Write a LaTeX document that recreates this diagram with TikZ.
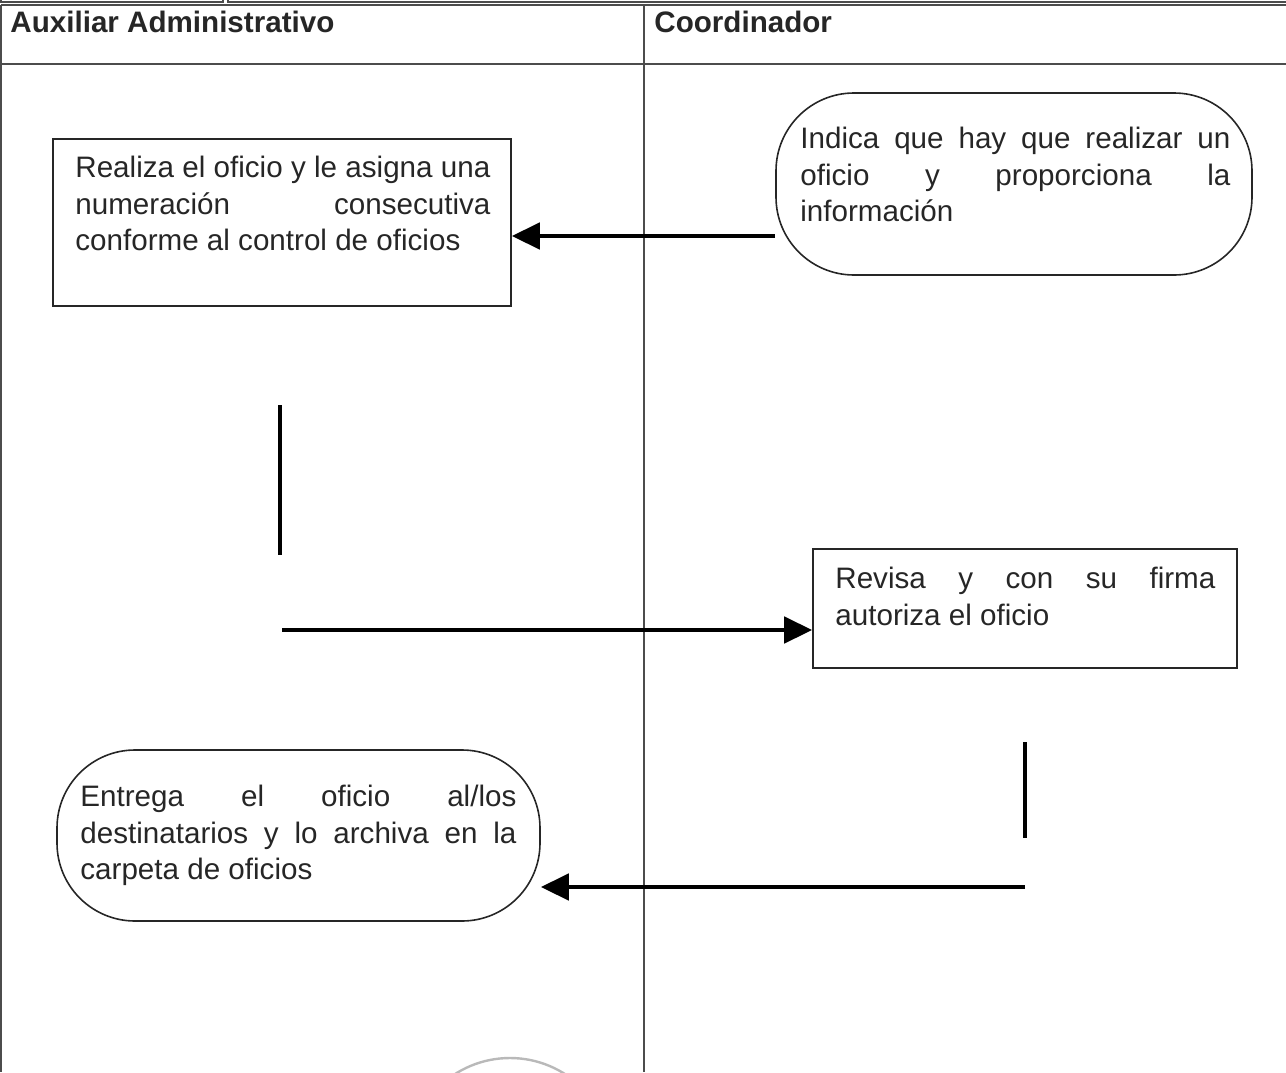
\documentclass[tikz,border=0pt]{standalone}
\usepackage{fontspec}
\setmainfont{Liberation Sans}
\usetikzlibrary{arrows.meta}
\hyphenpenalty=10000
\hbadness=10000
\begin{document}
\begin{tikzpicture}[x=0.5pt, y=-0.5pt,
    every node/.style={font=\fontsize{14.8}{18.25}\selectfont, text=black!85},
    lanehead/.style={anchor=base west, inner sep=0pt, font=\fontsize{14.8}{18.25}\selectfont\bfseries},
    grid/.style={draw=black!70, line width=0.7pt},
    stepbox/.style={draw=black!85, line width=0.8pt, inner sep=0pt},
    roundbox/.style={stepbox, rounded corners=39pt},
    steptext/.style={anchor=north west, inner sep=0pt, align=justify},
    flow/.style={line width=2.4pt, -{Triangle[length=14pt, width=13pt]}},
    flowline/.style={line width=2.2pt}]
  \useasboundingbox (0,0) rectangle (1286,1072);

  % table
  \draw[grid] (1,-4) rectangle (223,2);
  \draw[grid] (228,-4) rectangle (1292,2);
  \draw[grid] (1,5) -- (1286,5);
  \draw[grid] (1,64) -- (1286,64);
  \draw[grid] (1,5) -- (1,1072);
  \draw[grid] (644,5) -- (644,1072);
  \node[lanehead] (aux) at (10,32) {Auxiliar Administrativo};
  \node[lanehead] (coord) at (654,32) {Coordinador};

  % steps
  \node[stepbox, minimum width=229pt, minimum height=83.5pt] (realiza) at (282,222.5) {};
  \node[steptext, text width=207.5pt] (realizaT) at (75,156)
    {Realiza el oficio y le asigna una\linebreak numeración consecutiva\linebreak conforme al control de oficios};
  \node[roundbox, minimum width=238pt, minimum height=91pt] (indica) at (1014,184) {};
  \node[steptext, text width=215pt] (indicaT) at (800,127)
    {Indica que hay que realizar un\linebreak oficio y proporciona la\linebreak información};
  \node[stepbox, minimum width=212pt, minimum height=59.5pt] (revisa) at (1025,608.5) {};
  \node[steptext, text width=190pt] (revisaT) at (835,567)
    {Revisa y con su firma\linebreak autoriza el oficio};
  \node[roundbox, minimum width=241.5pt, minimum height=85.5pt] (entrega) at (298.5,835.5) {};
  \node[steptext, text width=218pt] (entregaT) at (80,785)
    {Entrega el oficio al/los\linebreak destinatarios y lo archiva en la\linebreak carpeta de oficios};

  % connectors
  \coordinate (a1) at (775,236);
  \draw[flow] (a1) -- (a1 -| realiza.east);
  \coordinate (v1a) at (280,405);
  \coordinate (v1b) at (280,555);
  \draw[flowline] (v1a) -- (v1b);
  \coordinate (a2) at (282,630);
  \draw[flow] (a2) -- (a2 -| revisa.west);
  \coordinate (v2a) at (1025,742);
  \coordinate (v2b) at (1025,838);
  \draw[flowline] (v2a) -- (v2b);
  \coordinate (a3) at (1025,887);
  \draw[flow] (a3) -- (a3 -| entrega.east);

  % stamp
  \begin{scope}
    \clip (0,0) rectangle (1286,1072);
    \draw[gray!55, line width=1.2pt] (510,1160) circle[radius=102];
  \end{scope}
\end{tikzpicture}
\end{document}
